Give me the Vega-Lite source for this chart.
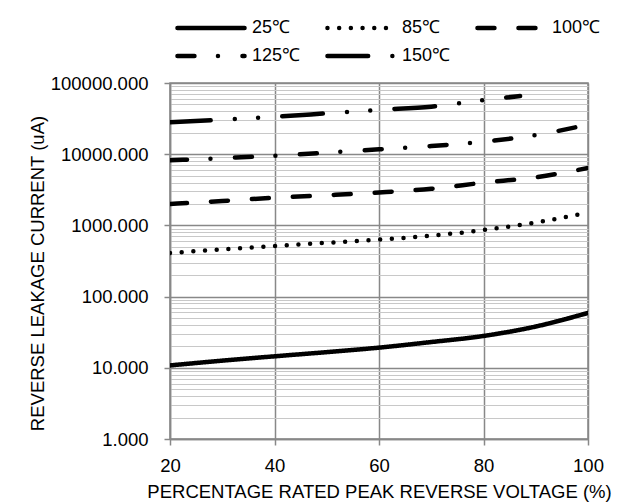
{
  "$schema": "https://vega.github.io/schema/vega-lite/v6.json",
  "width": 418,
  "height": 356,
  "autosize": {"type": "none"},
  "padding": {"left": 170, "top": 83, "right": 45, "bottom": 64},
  "background": "white",
  "config": {
    "font": "Liberation Sans",
    "view": {"stroke": "#888888", "strokeWidth": 1.5},
    "axis": {"labelColor": "#000", "titleColor": "#000", "labelFontSize": 18.5, "titleFontSize": 18.5, "titleFontWeight": "normal"}
  },
  "data": {"values": [
    {"v": 20, "i": 10.8, "t": "25℃"}, {"v": 30, "i": 12.6, "t": "25℃"}, {"v": 40, "i": 14.5, "t": "25℃"}, {"v": 50, "i": 16.6, "t": "25℃"}, {"v": 60, "i": 19.2, "t": "25℃"}, {"v": 70, "i": 23, "t": "25℃"}, {"v": 80, "i": 28, "t": "25℃"}, {"v": 90, "i": 38, "t": "25℃"}, {"v": 100, "i": 59, "t": "25℃"},
    {"v": 20, "i": 410, "t": "85℃"}, {"v": 30, "i": 460, "t": "85℃"}, {"v": 40, "i": 515, "t": "85℃"}, {"v": 50, "i": 570, "t": "85℃"}, {"v": 60, "i": 630, "t": "85℃"}, {"v": 70, "i": 717, "t": "85℃"}, {"v": 80, "i": 860, "t": "85℃"}, {"v": 90, "i": 1100, "t": "85℃"}, {"v": 100, "i": 1510, "t": "85℃"},
    {"v": 20, "i": 2000, "t": "100℃"}, {"v": 30, "i": 2200, "t": "100℃"}, {"v": 40, "i": 2450, "t": "100℃"}, {"v": 50, "i": 2650, "t": "100℃"}, {"v": 60, "i": 2900, "t": "100℃"}, {"v": 70, "i": 3270, "t": "100℃"}, {"v": 80, "i": 3980, "t": "100℃"}, {"v": 90, "i": 4750, "t": "100℃"}, {"v": 100, "i": 6400, "t": "100℃"},
    {"v": 20, "i": 8200, "t": "125℃"}, {"v": 30, "i": 8800, "t": "125℃"}, {"v": 40, "i": 9500, "t": "125℃"}, {"v": 50, "i": 10500, "t": "125℃"}, {"v": 60, "i": 11700, "t": "125℃"}, {"v": 70, "i": 13000, "t": "125℃"}, {"v": 80, "i": 15000, "t": "125℃"}, {"v": 90, "i": 18600, "t": "125℃"}, {"v": 100, "i": 26000, "t": "125℃"},
    {"v": 20, "i": 28000, "t": "150℃"}, {"v": 30, "i": 30500, "t": "150℃"}, {"v": 40, "i": 33500, "t": "150℃"}, {"v": 50, "i": 37500, "t": "150℃"}, {"v": 60, "i": 42000, "t": "150℃"}, {"v": 70, "i": 46500, "t": "150℃"}, {"v": 80, "i": 57500, "t": "150℃"}, {"v": 87, "i": 65500, "t": "150℃"}
  ]},
  "mark": {"type": "line", "color": "#000", "strokeWidth": 4.5, "strokeCap": "round", "interpolate": "monotone", "clip": true},
  "encoding": {
    "x": {
      "field": "v", "type": "quantitative",
      "scale": {"domain": [20, 100], "nice": false, "zero": false},
      "axis": {
        "values": [20, 40, 60, 80, 100],
        "title": "PERCENTAGE RATED PEAK REVERSE VOLTAGE (%)",
        "grid": true, "gridColor": "#888888", "gridWidth": 1.5, "gridOpacity": 1,
        "domainColor": "#888888", "domainWidth": 1.5,
        "tickColor": "#888888", "tickSize": 6, "tickWidth": 1.5,
        "labelPadding": 11, "titlePadding": 8,
        "labelOverlap": false, "labelFlush": false
      }
    },
    "y": {
      "field": "i", "type": "quantitative",
      "scale": {"type": "log", "domain": [1, 100000], "nice": false},
      "axis": {
        "values": [1,2,3,4,5,6,7,8,9,10,20,30,40,50,60,70,80,90,100,200,300,400,500,600,700,800,900,1000,2000,3000,4000,5000,6000,7000,8000,9000,10000,20000,30000,40000,50000,60000,70000,80000,90000,100000],
        "format": ".3f",
        "labelExpr": "indexof([1,10,100,1000,10000,100000], datum.value) >= 0 ? datum.label : ''",
        "labelOverlap": false, "labelBound": false, "labelFlush": false,
        "title": "REVERSE LEAKAGE CURRENT (uA)",
        "grid": true, "gridOpacity": 1,
        "gridColor": {"condition": {"test": "indexof([1,10,100,1000,10000,100000], datum.value) >= 0", "value": "#888888"}, "value": "#c8c8c8"},
        "gridWidth": {"condition": {"test": "indexof([1,10,100,1000,10000,100000], datum.value) >= 0", "value": 1.5}, "value": 1.2},
        "tickColor": {"condition": {"test": "indexof([1,10,100,1000,10000,100000], datum.value) >= 0", "value": "#888888"}, "value": "transparent"},
        "tickSize": 6, "tickWidth": 1.5,
        "domainColor": "#888888", "domainWidth": 1.5,
        "labelPadding": 16,
        "titleX": -133, "titleY": 190, "titleAlign": "center", "titleBaseline": "middle", "titleAngle": -90
      }
    },
    "strokeDash": {
      "field": "t", "type": "nominal",
      "scale": {
        "domain": ["25℃", "85℃", "100℃", "125℃", "150℃"],
        "range": [[1, 0], [0, 11.7], [17, 24], [17, 23.5, 0, 24.5], [40.7, 24.2, 0, 23.3, 0, 24.2]]
      },
      "legend": {
        "title": null,
        "orient": "none", "legendX": 5, "legendY": -66,
        "direction": "horizontal", "columns": 3, "gridAlign": "all",
        "symbolType": "stroke", "symbolSize": 4500, "symbolStrokeWidth": 4.5, "symbolStrokeColor": "#000",
        "clipHeight": 22,
        "labelFontSize": 18, "labelColor": "#000", "labelOffset": 5,
        "columnPadding": 24, "rowPadding": 6,
        "encode": {"symbols": {"update": {"strokeCap": {"value": "round"}}}}
      }
    }
  }
}
